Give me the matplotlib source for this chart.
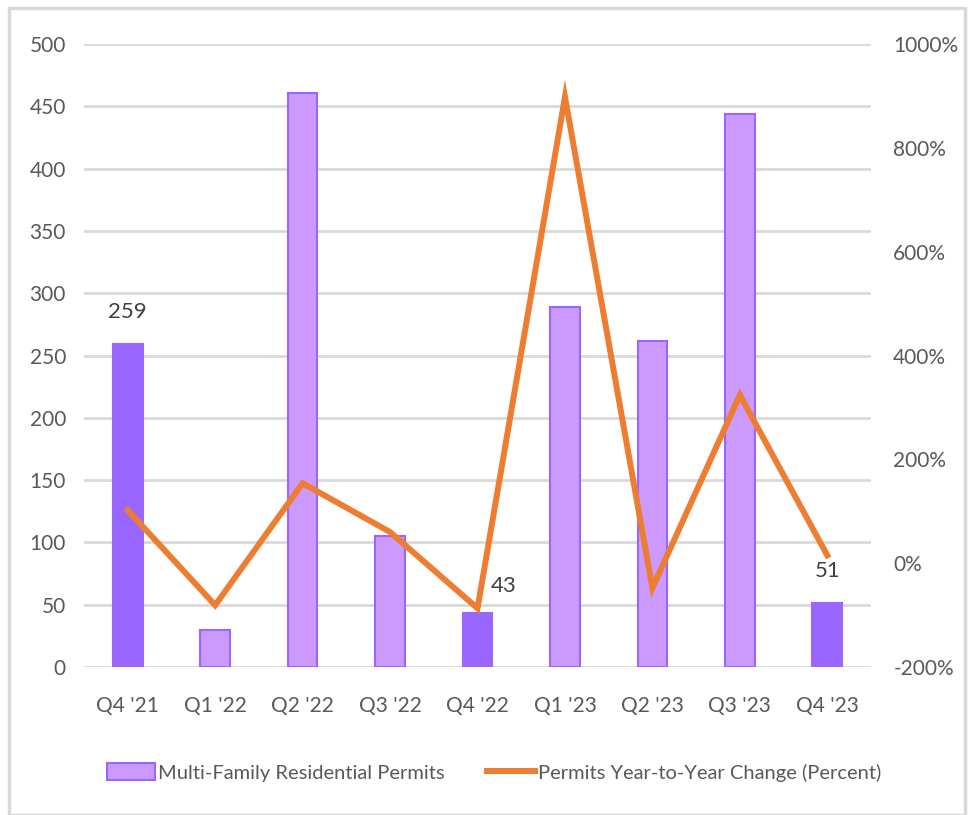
import matplotlib.pyplot as plt
from matplotlib.patches import Rectangle, Patch
from matplotlib.lines import Line2D
from matplotlib.ticker import FuncFormatter

plt.rcParams['font.family'] = ['Lato', 'DejaVu Sans']

quarters = ["Q4 '21", "Q1 '22", "Q2 '22", "Q3 '22", "Q4 '22",
            "Q1 '23", "Q2 '23", "Q3 '23", "Q4 '23"]
permits = [259, 30, 461, 105, 43, 289, 262, 444, 51]
yoy_change = [102, -81, 154, 60, -87, 898, -48, 324, 15]
highlight = [True, False, False, False, True, False, False, False, True]

gris = "#595959"
fig = plt.figure(figsize=(9.69, 8.15), dpi=100)
ax = fig.add_axes([0.0867, 0.1816, 0.8122, 0.7644])
ax2 = ax.twinx()

x = range(len(quarters))
couleurs = ["#9966FF" if h else "#CC99FF" for h in highlight]
ax.bar(x, permits, width=0.34, color=couleurs, edgecolor="#9966FF",
       linewidth=1.5, zorder=3)
ax2.plot(x, yoy_change, color="#ED7D31", linewidth=4.3, zorder=4,
         solid_joinstyle="miter")

# etiquettes de valeur sur les barres foncées
for i, h in enumerate(highlight):
    if h:
        dx = 0.3 if i == 4 else 0
        dy = 14 if i == 4 else 18
        ax.text(i + dx, permits[i] + dy, str(permits[i]), ha="center",
                va="bottom", fontsize=16, color="#404040", zorder=5)

ax.set_xlim(-0.5, len(quarters) - 0.5)
ax.set_ylim(0, 500)
ax.set_yticks(range(0, 501, 50))
ax2.set_ylim(-200, 1000)
ax2.set_yticks(range(-200, 1001, 200))
ax2.yaxis.set_major_formatter(FuncFormatter(lambda v, p: f"{int(v)}%"))

ax.set_xticks(list(x))
ax.set_xticklabels(quarters)
ax.grid(axis="y", color="#D9D9D9", linewidth=2, zorder=0)
ax.set_axisbelow(True)

for a in (ax, ax2):
    for s in a.spines.values():
        s.set_visible(False)
    a.tick_params(length=0, labelsize=15, colors=gris, pad=13)
ax.tick_params(axis="x", pad=21)
ax2.tick_params(axis="y", pad=16)

handles = [Patch(facecolor="#CC99FF", edgecolor="#9966FF", linewidth=1.5,
                 label="Multi-Family Residential Permits"),
           Line2D([], [], color="#ED7D31", linewidth=4.3,
                  label="Permits Year-to-Year Change (Percent)")]
fig.legend(handles=handles, loc="center", bbox_to_anchor=(0.51, 0.052),
           ncol=2, frameon=False, fontsize=14.5, labelcolor=gris,
           handlelength=2.4, handleheight=0.9, handletextpad=0.15,
           columnspacing=2.1)

fig.patches.append(Rectangle((0.009, 0.0), 0.987, 0.99, transform=fig.transFigure,
                             fill=False, edgecolor="#D9D9D9", linewidth=2.5))

fig.savefig("out.png", dpi=100)
